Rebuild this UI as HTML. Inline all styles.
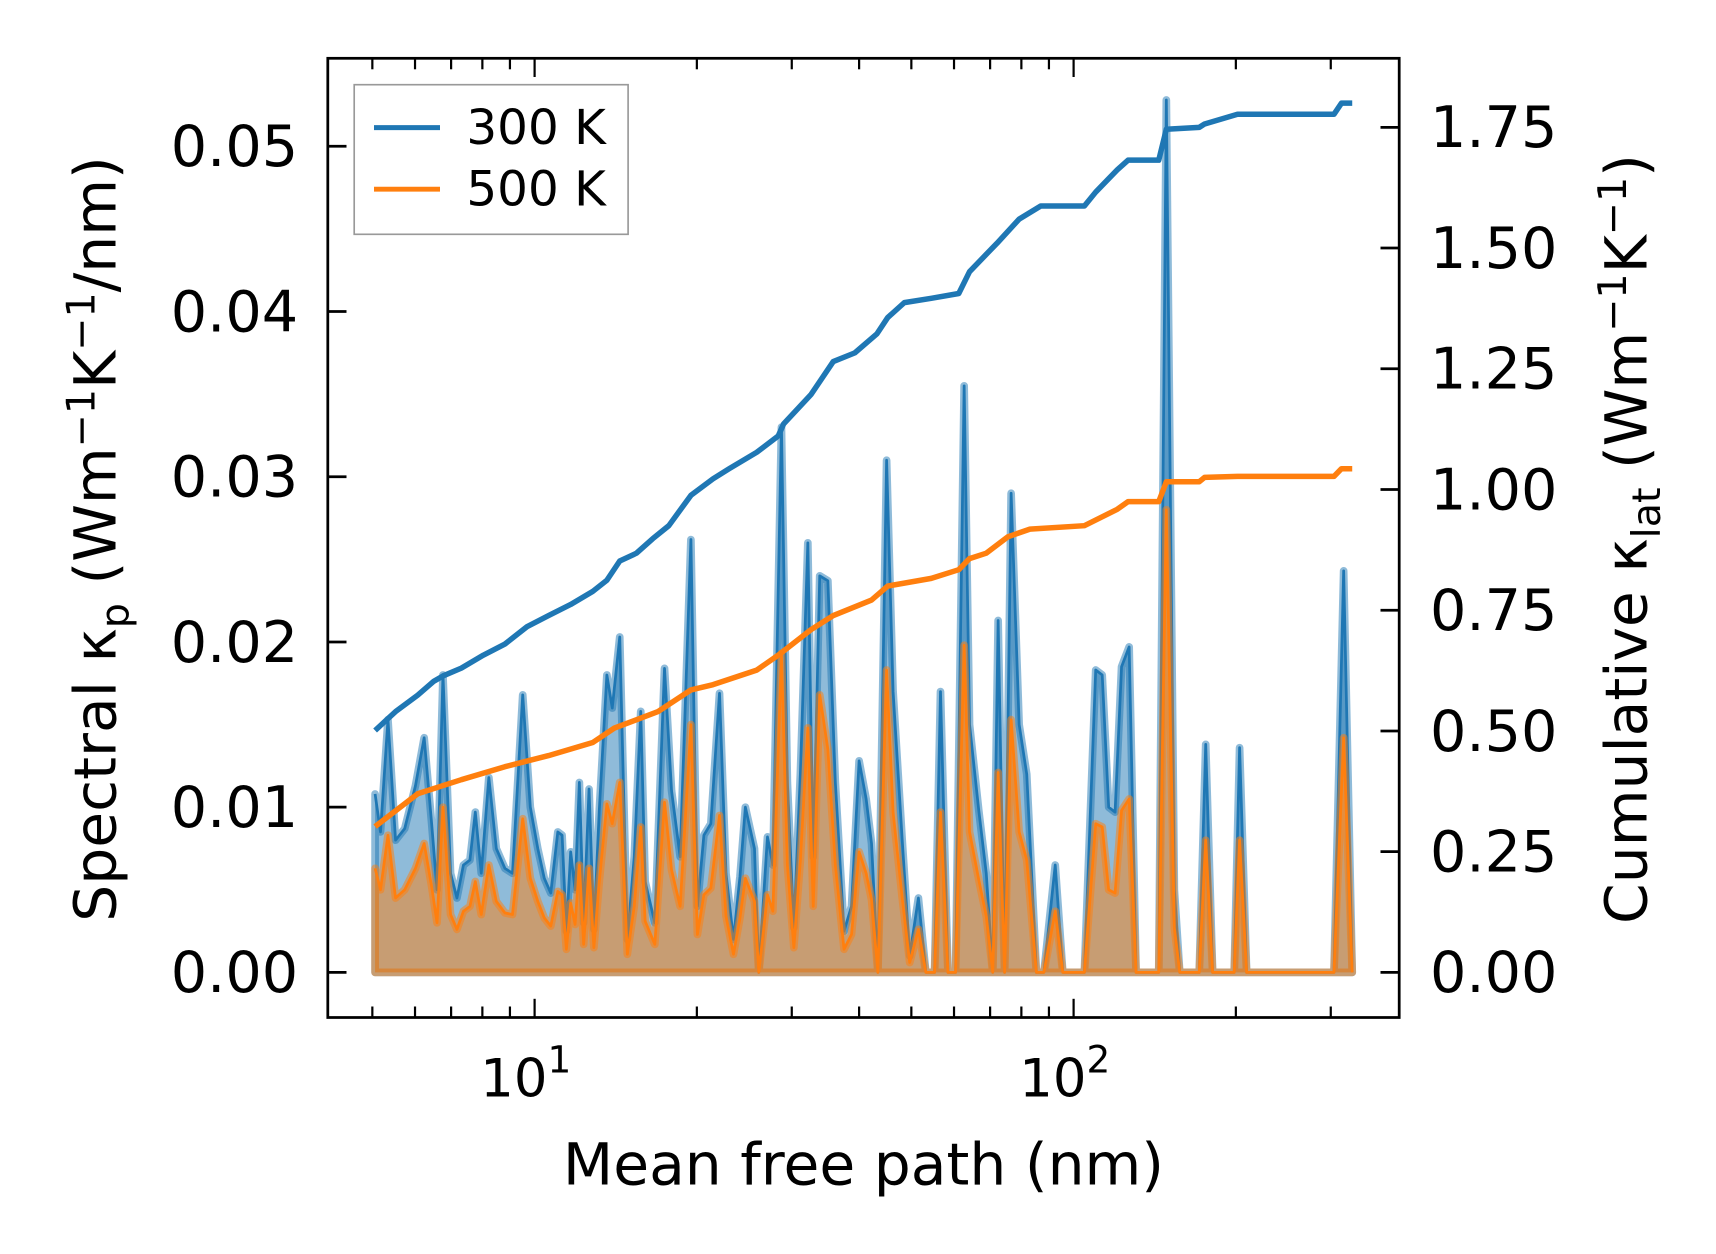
<!DOCTYPE html>
<html><head><meta charset="utf-8"><style>
html,body{margin:0;padding:0;background:#fff;}
svg{display:block;font-family:"DejaVu Sans","Liberation Sans",sans-serif;}
</style></head><body>
<svg id="chart" width="1716" height="1254" viewBox="0 0 1560 1140" xmlns="http://www.w3.org/2000/svg">
<g id="plot"></g>
<g id="axes"></g>
<g>
  <rect x="322" y="77" width="249" height="136" fill="#fff" fill-opacity="0.8" stroke="#999" stroke-width="1.5"/>
  <line x1="340" y1="116" x2="400" y2="116" stroke="#1f77b4" stroke-width="4.5"/>
  <text x="424" y="131" font-size="44">300 K</text>
  <line x1="340" y1="172" x2="400" y2="172" stroke="#ff7f0e" stroke-width="4.5"/>
  <text x="424" y="187" font-size="44">500 K</text>
</g>
<text x="785" y="1077" font-size="53" text-anchor="middle">Mean free path (nm)</text>
<text transform="translate(105,490) rotate(-90)" font-size="53" text-anchor="middle">Spectral κ<tspan font-size="36" dy="12">p</tspan><tspan dy="-12"> (Wm</tspan><tspan font-size="36" dy="-19">−1</tspan><tspan dy="19">K</tspan><tspan font-size="36" dy="-19">−1</tspan><tspan dy="19">/nm)</tspan></text>
<text transform="translate(1497,490) rotate(-90)" font-size="53" text-anchor="middle">Cumulative κ<tspan font-size="36" dy="12">lat</tspan><tspan dy="-12"> (Wm</tspan><tspan font-size="36" dy="-19">−1</tspan><tspan dy="19">K</tspan><tspan font-size="36" dy="-19">−1</tspan><tspan dy="19">)</tspan></text>
</svg>
<script>
// log10 of mean free path (nm) for spectral samples
const specLogMfp = [0.704,0.714,0.728,0.742,0.759,0.779,0.795,0.809,0.819,0.830,0.844,0.856,0.868,0.880,0.890,0.901,0.915,0.929,0.945,0.959,0.978,0.992,1.006,1.018,1.030,1.043,1.051,1.059,1.067,1.075,1.083,1.091,1.101,1.110,1.120,1.134,1.144,1.158,1.172,1.185,1.197,1.205,1.223,1.241,1.254,1.270,1.290,1.302,1.314,1.327,1.343,1.355,1.369,1.381,1.391,1.408,1.416,1.432,1.442,1.458,1.469,1.481,1.493,1.507,1.517,1.529,1.544,1.558,1.574,1.588,1.602,1.615,1.625,1.637,1.653,1.665,1.682,1.696,1.712,1.726,1.742,1.753,1.767,1.781,1.797,1.807,1.824,1.838,1.850,1.860,1.872,1.884,1.899,1.913,1.931,1.945,1.966,1.980,2.020,2.041,2.053,2.065,2.077,2.089,2.103,2.116,2.158,2.172,2.187,2.197,2.233,2.245,2.258,2.298,2.308,2.321,2.483,2.501,2.517];
const spec300 = [0.0108,0.0085,0.0153,0.0080,0.0087,0.0113,0.0142,0.0090,0.0050,0.0180,0.0060,0.0045,0.0065,0.0068,0.0097,0.0060,0.0118,0.0075,0.0063,0.0060,0.0168,0.0100,0.0075,0.0057,0.0048,0.0085,0.0083,0.0025,0.0073,0.0050,0.0115,0.0030,0.0111,0.0026,0.0098,0.0180,0.0160,0.0203,0.0020,0.0070,0.0158,0.0055,0.0030,0.0184,0.0110,0.0070,0.0262,0.0040,0.0083,0.0090,0.0169,0.0060,0.0020,0.0058,0.0100,0.0075,0.0000,0.0082,0.0065,0.0330,0.0115,0.0027,0.0120,0.0260,0.0070,0.0240,0.0237,0.0115,0.0025,0.0040,0.0128,0.0105,0.0078,0.0000,0.0310,0.0170,0.0080,0.0010,0.0045,0.0000,0.0000,0.0170,0.0000,0.0000,0.0355,0.0150,0.0098,0.0060,0.0000,0.0213,0.0000,0.0290,0.0150,0.0120,0.0000,0.0000,0.0065,0.0000,0.0000,0.0183,0.0180,0.0100,0.0097,0.0185,0.0197,0.0000,0.0000,0.0528,0.0050,0.0000,0.0000,0.0138,0.0000,0.0000,0.0136,0.0000,0.0000,0.0243,0.0000];
const spec500 = [0.0063,0.0050,0.0083,0.0045,0.0050,0.0063,0.0078,0.0052,0.0030,0.0100,0.0035,0.0026,0.0037,0.0040,0.0055,0.0035,0.0065,0.0043,0.0036,0.0035,0.0093,0.0057,0.0043,0.0033,0.0028,0.0049,0.0047,0.0014,0.0042,0.0029,0.0065,0.0017,0.0063,0.0015,0.0055,0.0102,0.0090,0.0115,0.0011,0.0040,0.0088,0.0031,0.0017,0.0103,0.0062,0.0040,0.0150,0.0023,0.0047,0.0051,0.0095,0.0034,0.0011,0.0033,0.0057,0.0043,0.0000,0.0047,0.0037,0.0193,0.0065,0.0015,0.0068,0.0148,0.0040,0.0168,0.0135,0.0065,0.0014,0.0023,0.0073,0.0060,0.0044,0.0000,0.0183,0.0097,0.0045,0.0006,0.0026,0.0000,0.0000,0.0097,0.0000,0.0000,0.0198,0.0085,0.0056,0.0034,0.0000,0.0121,0.0000,0.0153,0.0085,0.0068,0.0000,0.0000,0.0037,0.0000,0.0000,0.0090,0.0088,0.0050,0.0048,0.0098,0.0105,0.0000,0.0000,0.0280,0.0027,0.0000,0.0000,0.0080,0.0000,0.0000,0.0080,0.0000,0.0000,0.0142,0.0000];
// cumulative kappa
const cum300LogMfp = [0.704,0.742,0.783,0.813,0.830,0.864,0.905,0.945,0.986,1.026,1.067,1.108,1.134,1.158,1.189,1.219,1.249,1.290,1.331,1.361,1.412,1.452,1.462,1.513,1.554,1.594,1.635,1.655,1.686,1.736,1.787,1.807,1.838,1.858,1.899,1.939,2.020,2.041,2.081,2.101,2.158,2.172,2.233,2.243,2.304,2.483,2.497,2.517];
const cum300 = [0.501,0.540,0.574,0.603,0.614,0.630,0.657,0.680,0.716,0.739,0.762,0.789,0.812,0.852,0.868,0.898,0.925,0.988,1.022,1.043,1.077,1.111,1.136,1.197,1.265,1.283,1.322,1.356,1.387,1.396,1.406,1.451,1.487,1.510,1.560,1.587,1.587,1.616,1.662,1.682,1.682,1.746,1.750,1.757,1.777,1.777,1.800,1.800];
const cum500LogMfp = [0.704,0.783,0.864,0.945,1.026,1.108,1.148,1.229,1.290,1.331,1.412,1.452,1.513,1.554,1.625,1.655,1.736,1.787,1.807,1.838,1.878,1.919,2.020,2.081,2.101,2.158,2.172,2.233,2.243,2.304,2.483,2.497,2.517];
const cum500 = [0.302,0.370,0.399,0.426,0.449,0.476,0.506,0.540,0.585,0.596,0.626,0.657,0.710,0.739,0.771,0.800,0.816,0.834,0.857,0.868,0.902,0.918,0.925,0.959,0.975,0.975,1.016,1.016,1.025,1.027,1.027,1.043,1.043];
const leftTicks = [0,0.01,0.02,0.03,0.04,0.05];
const leftTickLabels = ["0.00","0.01","0.02","0.03","0.04","0.05"];
const rightTicks = [0,0.25,0.5,0.75,1.0,1.25,1.5,1.75];
const rightTickLabels = ["0.00","0.25","0.50","0.75","1.00","1.25","1.50","1.75"];

const L=298,R=1272,T=53,B=925;
function xs(lg){return 486+(lg-1)*490;}
function yl(v){return 884-v*15020;}
function yr(v){return 884-v*439;}
const NS="http://www.w3.org/2000/svg";
function mk(tag,parent,attrs){const e=document.createElementNS(NS,tag);for(const k in attrs)e.setAttribute(k,attrs[k]);parent.appendChild(e);return e;}
const plot=document.getElementById('plot'), axes=document.getElementById('axes');

function spectral(vals,color,name){
  let pts=specLogMfp.map((lg,i)=>xs(lg).toFixed(1)+','+yl(vals[i]).toFixed(1));
  const x0=xs(specLogMfp[0]).toFixed(1), x1=xs(specLogMfp[specLogMfp.length-1]).toFixed(1);
  const fill=mk('polygon',plot,{points:x0+','+yl(0)+' '+pts.join(' ')+' '+x1+','+yl(0),fill:color,'fill-opacity':0.5,stroke:color,'stroke-opacity':0.5,'stroke-width':7,'stroke-linejoin':'round'});
  
  
  const ln=mk('polyline',plot,{points:pts.join(' '),fill:'none',stroke:color,'stroke-width':2.5,'stroke-linejoin':'round'});
  
  
}
spectral(spec300,'#1f77b4','spectral-300k');
spectral(spec500,'#ff7f0e','spectral-500k');

function cum(lgs,vals,color,name){
  const pts=lgs.map((lg,i)=>xs(lg).toFixed(1)+','+yr(vals[i]).toFixed(1)).join(' ');
  const ln=mk('polyline',plot,{points:pts,fill:'none',stroke:color,'stroke-width':5,'stroke-linejoin':'round'});
  
  
}
cum(cum300LogMfp,cum300,'#1f77b4','cumulative-300k');
cum(cum500LogMfp,cum500,'#ff7f0e','cumulative-500k');

const sp=mk('rect',axes,{x:L,y:T,width:R-L,height:B-T,fill:'none',stroke:'#000','stroke-width':2.5});


leftTicks.forEach((v,i)=>{
  const y=yl(v);
  const t=mk('line',axes,{x1:L,y1:y,x2:L+17,y2:y,stroke:'#000','stroke-width':2.5});
  
  
  const tx=mk('text',axes,{x:L-27,y:y+18,'font-size':52,'text-anchor':'end'});
  tx.textContent=leftTickLabels[i];
  
  
});
rightTicks.forEach((v,i)=>{
  const y=yr(v);
  const t=mk('line',axes,{x1:R-17,y1:y,x2:R,y2:y,stroke:'#000','stroke-width':2.5});
  
  
  const tx=mk('text',axes,{x:R+28,y:y+18,'font-size':52,'text-anchor':'start'});
  tx.textContent=rightTickLabels[i];
  
  
});
const decades=[0,1,2];
decades.forEach(d=>{
  for(let m=1;m<10;m++){
    const lg=d+Math.log10(m), x=xs(lg);
    if(x<L+2||x>R-2)continue;
    const len=m===1?17:10;
    [[B,B-len],[T,T+len]].forEach(p=>{
      const t=mk('line',axes,{x1:x,y1:p[0],x2:x,y2:p[1],stroke:'#000','stroke-width':2});
      
      
    });
    if(m===1){
      const tx=mk('text',axes,{x:x-8,y:997,'font-size':48,'text-anchor':'middle'});
      tx.textContent='10';
      const s=mk('tspan',tx,{'font-size':34,dy:-22});
      s.textContent=String(d);
      
      
    }
  }
});
</script>
</body></html>
